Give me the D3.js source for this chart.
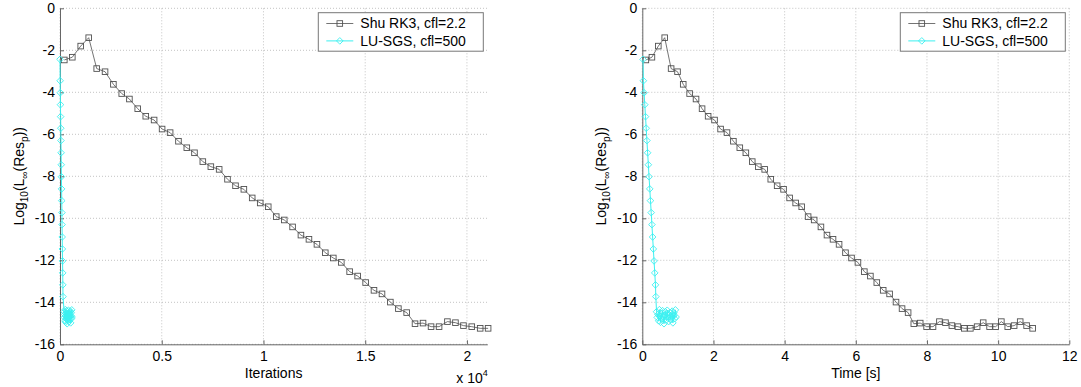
<!DOCTYPE html>
<html>
<head>
<meta charset="utf-8">
<script src="https://cdn.jsdelivr.net/npm/d3@7"></script>
<style>
  body { margin: 0; background: #fff; }
  svg { display: block; font-family: "Liberation Sans", Arial, Helvetica, sans-serif; }
</style>
</head>
<body>
<svg id="chart" width="1081" height="387"></svg>
<script>
// Shu RK3 residual history (shared by both panels)
let rkRes = [-2.46, -2.33, -1.80, -1.40, -2.87, -3.02, -3.62, -4.06, -4.32, -4.78,
    -5.14, -5.32, -5.75, -5.92, -6.33, -6.64, -6.88, -7.30, -7.54, -7.67,
    -8.14, -8.45, -8.62, -9.03, -9.27, -9.45, -9.92, -10.08, -10.41, -10.80,
    -11.00, -11.24, -11.64, -11.89, -12.10, -12.54, -12.75, -13.06, -13.43, -13.60,
    -13.99, -14.30, -14.49, -15.02, -14.99, -15.16, -15.16, -14.92, -14.97, -15.11,
    -15.16, -15.24, -15.24, -15.16, -14.97, -15.16, -15.16, -14.92, -15.16, -15.11,
    -14.92, -15.11, -15.24]
// iterations shown in the left panel (axis stops at 2.1e4)
let rkIter = [212, 605, 1018, 1411, 1804, 2214, 2624, 3034, 3411, 3820,
    4215, 4625, 5018, 5412, 5822, 6232, 6609, 7019, 7413, 7822,
    8232, 8626, 9036, 9446, 9840, 10234, 10627, 11021, 11431, 11841,
    12235, 12628, 13038, 13432, 13825, 14235, 14628, 15021, 15431, 15825,
    16236, 16630, 17038, 17448, 17842, 18236, 18630, 19040, 19434, 19828,
    20237, 20650, 21040]
let rkTime = [0.10, 0.27, 0.45, 0.63, 0.81, 0.99, 1.15, 1.33, 1.51, 1.68,
    1.85, 2.03, 2.20, 2.38, 2.56, 2.74, 2.91, 3.09, 3.26, 3.44,
    3.61, 3.79, 3.97, 4.14, 4.31, 4.48, 4.66, 4.83, 5.02, 5.19,
    5.36, 5.53, 5.71, 5.88, 6.06, 6.24, 6.41, 6.59, 6.77, 6.95,
    7.13, 7.30, 7.47, 7.63, 7.81, 7.99, 8.17, 8.35, 8.52, 8.70,
    8.87, 9.05, 9.22, 9.41, 9.58, 9.76, 9.93, 10.09, 10.27, 10.45,
    10.62, 10.80, 10.97]

// LU-SGS residual history
let luRes = [-2.43, -3.45, -4.02, -4.59, -5.16, -5.71, -6.30, -6.88, -7.45, -8.02,
    -8.60, -9.16, -9.73, -10.30, -10.89, -11.46, -12.03, -12.60, -13.17, -13.73,
    -14.45, -14.72, -14.58, -14.88, -14.35, -14.66, -14.95, -14.52, -14.80, -14.40,
    -14.70, -15.02, -14.62, -14.45, -14.85, -14.55, -14.38, -14.75, -14.92, -14.60,
    -14.48, -14.82, -14.68, -14.42, -14.98, -14.64, -14.50, -14.78, -14.36, -14.70]
let luIter = [0, 8, 16, 23, 31, 39, 47, 55, 62, 70,
    78, 86, 94, 101, 109, 117, 125, 133, 140, 148,
    205, 218, 231, 245, 258, 271, 284, 298, 311, 324,
    338, 351, 364, 377, 391, 404, 417, 431, 444, 457,
    470, 484, 497, 510, 524, 537, 550, 563, 577, 590]
let luTime = [0.02, 0.03, 0.05, 0.07, 0.09, 0.11, 0.13, 0.15, 0.17, 0.19,
    0.21, 0.23, 0.25, 0.27, 0.29, 0.31, 0.33, 0.35, 0.37, 0.38,
    0.40, 0.42, 0.44, 0.46, 0.48, 0.50, 0.51, 0.53, 0.55, 0.57,
    0.59, 0.61, 0.63, 0.65, 0.67, 0.69, 0.70, 0.72, 0.74, 0.76,
    0.78, 0.80, 0.82, 0.84, 0.86, 0.88, 0.89, 0.91, 0.93, 0.95]

let yTicks = [0, -2, -4, -6, -8, -10, -12, -14, -16]
let iterTicks = [0, 5000, 10000, 15000, 20000]
let iterTickLabels = ["0", "0.5", "1", "1.5", "2"]
let timeTicks = [0, 2, 4, 6, 8, 10, 12]
let legendNames = ["Shu RK3, cfl=2.2", "LU-SGS, cfl=500"]

let rkColor = "#505050"
let luColor = "#3cf0f0"
let plotTop = 8.3, plotBottom = 344.3

let svg = d3.select("#chart")

function zip(xs, ys) {
    return xs.map((x, i) => [x, ys[i]])
}

function drawPanel(opt) {
    let g = svg.append("g")
    let xScale = d3.scaleLinear().domain(opt.xDomain).range([opt.left, opt.right])
    let yScale = d3.scaleLinear().domain([-16, 0]).range([plotBottom, plotTop])

    // 网格
    g.append("g").selectAll("line").data(yTicks).enter().append("line")
        .attr("x1", opt.left).attr("x2", opt.right)
        .attr("y1", d => yScale(d)).attr("y2", d => yScale(d))
        .attr("stroke", "#b4b4b4").attr("stroke-width", 0.8).attr("stroke-dasharray", "1,2")
    g.append("g").selectAll("line").data(opt.xTicks).enter().append("line")
        .attr("x1", d => xScale(d)).attr("x2", d => xScale(d))
        .attr("y1", plotTop).attr("y2", plotBottom)
        .attr("stroke", "#b4b4b4").attr("stroke-width", 0.8).attr("stroke-dasharray", "1,2")

    // 坐标轴
    let xAxis = g.append("g")
        .attr("transform", "translate(0," + plotBottom + ")")
        .call(d3.axisBottom(xScale).tickValues(opt.xTicks).tickSizeInner(-4).tickSizeOuter(0)
            .tickPadding(7).tickFormat(opt.xFormat))
    let yAxis = g.append("g")
        .attr("transform", "translate(" + opt.left + ",0)")
        .call(d3.axisLeft(yScale).tickValues(yTicks).tickSizeInner(-4).tickSizeOuter(0)
            .tickPadding(5).tickFormat(d => String(d)))
    g.selectAll(".domain").attr("stroke", "#666")
    g.selectAll(".tick line").attr("stroke", "#666")
    g.selectAll(".tick text").attr("font-size", "14px").attr("fill", "#000")
        .attr("font-family", "'Liberation Sans', Arial, sans-serif")
    xAxis.selectAll(".tick text").attr("dy", "10.2px")

    // 数据
    let line = d3.line().x(d => xScale(d[0])).y(d => yScale(d[1]))
    let rk = zip(opt.rkX, rkRes.slice(0, opt.rkX.length))
    let lu = zip(opt.luX, luRes)

    g.append("path").datum(rk).attr("d", line)
        .attr("fill", "none").attr("stroke", rkColor).attr("stroke-width", 0.8)
    g.append("g").selectAll("rect").data(rk).enter().append("rect")
        .attr("x", d => xScale(d[0]) - 2.8).attr("y", d => yScale(d[1]) - 2.8)
        .attr("width", 5.6).attr("height", 5.6)
        .attr("fill", "none").attr("stroke", rkColor).attr("stroke-width", 0.9)

    g.append("path").datum(lu).attr("d", line)
        .attr("fill", "none").attr("stroke", luColor).attr("stroke-width", 1)
    let diamond = d3.symbol().type(d3.symbolDiamond2).size(28)
    g.append("g").selectAll("path").data(lu).enter().append("path")
        .attr("d", diamond)
        .attr("transform", d => "translate(" + xScale(d[0]) + "," + yScale(d[1]) + ")")
        .attr("fill", "none").attr("stroke", luColor).attr("stroke-width", 0.9)

    // 标签
    g.append("text")
        .attr("x", (opt.left + opt.right) / 2).attr("y", 377.5)
        .attr("text-anchor", "middle").attr("font-size", "14px")
        .text(opt.xTitle)
    let yl = g.append("text")
        .attr("transform", "translate(" + opt.yLabelX + "," + ((plotTop + plotBottom) / 2) + ") rotate(-90)")
        .attr("text-anchor", "middle").attr("font-size", "14px")
    yl.append("tspan").text("Log")
    yl.append("tspan").attr("font-size", "10px").attr("dy", 4).text("10")
    yl.append("tspan").attr("dy", -4).text("(L")
    yl.append("tspan").attr("font-size", "10px").attr("dy", 4).text("\u221e")
    yl.append("tspan").attr("dy", -4).text("(Res")
    yl.append("tspan").attr("font-size", "10px").attr("dy", 4).text("p")
    yl.append("tspan").attr("dy", -4).text("))")

    if (opt.exponent) {
        let ex = g.append("text").attr("x", opt.right - 31).attr("y", 382.5).attr("font-size", "14px")
        ex.append("tspan").text("x 10")
        ex.append("tspan").attr("font-size", "9px").attr("dy", -7).text("4")
    }

    // 图例
    let lw = 165, lh = 38.5
    let lx = opt.right - 4 - lw, ly = 12.7
    let lg = g.append("g").attr("transform", "translate(" + lx + "," + ly + ")")
    lg.append("rect").attr("width", lw).attr("height", lh)
        .attr("fill", "#fff").attr("stroke", "#777").attr("stroke-width", 1)
    legendNames.forEach((name, i) => {
        let cy = 10.8 + i * 17.4
        let color = i == 0 ? rkColor : luColor
        lg.append("line").attr("x1", 8).attr("x2", 35).attr("y1", cy).attr("y2", cy)
            .attr("stroke", color).attr("stroke-width", i == 0 ? 0.8 : 1)
        if (i == 0) {
            lg.append("rect").attr("x", 21.5 - 2.8).attr("y", cy - 2.8).attr("width", 5.6).attr("height", 5.6)
                .attr("fill", "none").attr("stroke", color).attr("stroke-width", 0.9)
        } else {
            lg.append("path").attr("d", diamond).attr("transform", "translate(21.5," + cy + ")")
                .attr("fill", "none").attr("stroke", color).attr("stroke-width", 0.9)
        }
        lg.append("text").attr("x", 42).attr("y", cy + 5).attr("font-size", "14px").text(name)
    })
}

drawPanel({
    left: 60, right: 487.3, xDomain: [0, 21000],
    xTicks: iterTicks, xFormat: (d, i) => iterTickLabels[i],
    rkX: rkIter, luX: luIter, xTitle: "Iterations", yLabelX: 24, exponent: true
})
drawPanel({
    left: 642.3, right: 1069.3, xDomain: [0, 12],
    xTicks: timeTicks, xFormat: d => String(d),
    rkX: rkTime, luX: luTime, xTitle: "Time [s]", yLabelX: 606, exponent: false
})
</script>
</body>
</html>
